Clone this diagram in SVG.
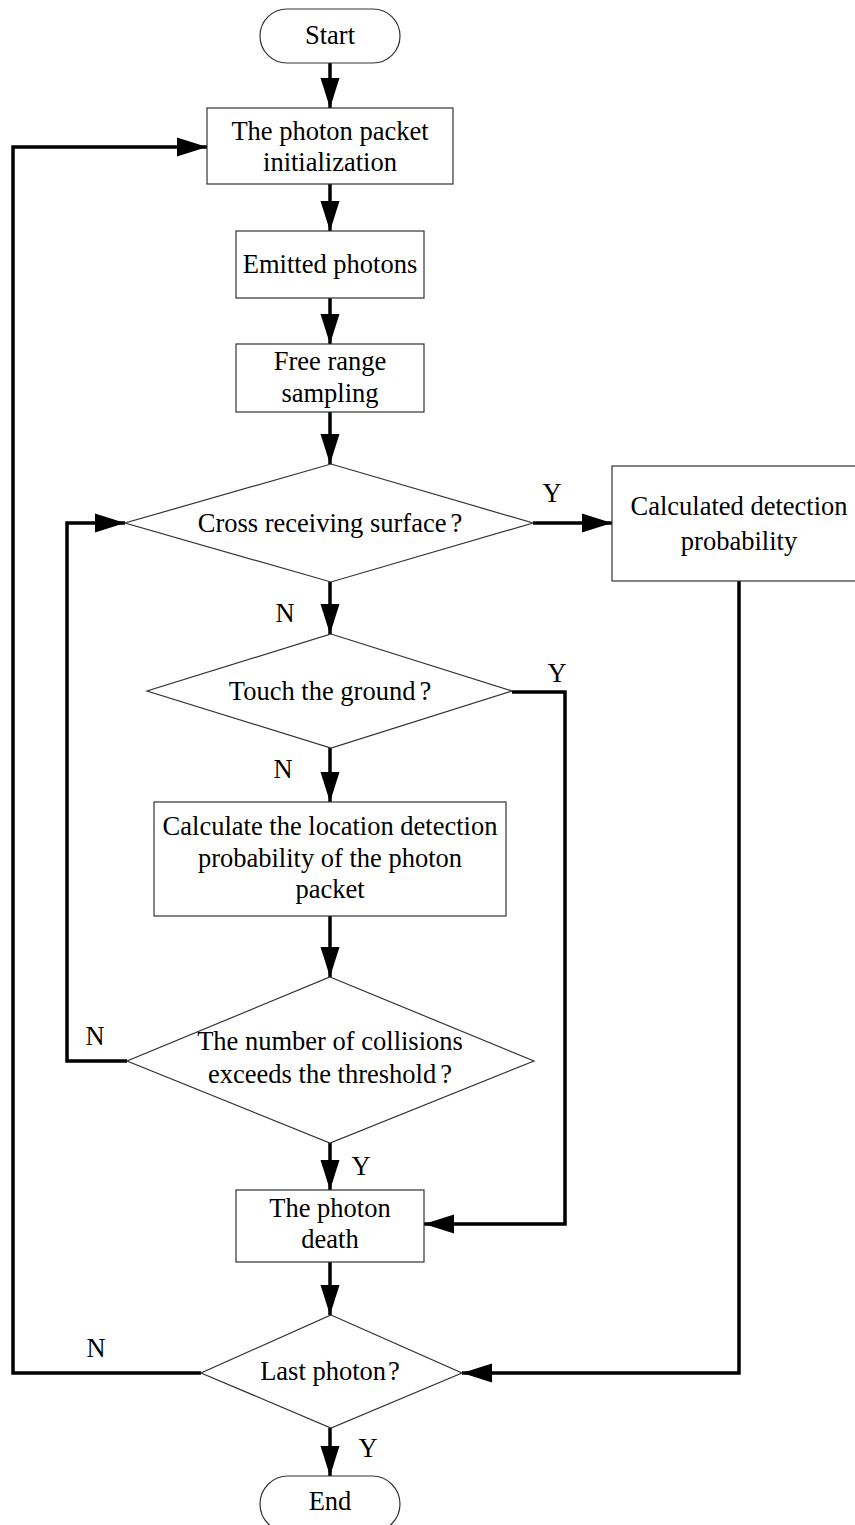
<svg xmlns="http://www.w3.org/2000/svg" width="855" height="1525" viewBox="0 0 855 1525">
<style>
.box{fill:#fff;stroke:#333;stroke-width:1.2}
.t{font-family:"Liberation Serif","Times New Roman",serif;font-size:26.5px;fill:#000;text-anchor:middle}
.lbl{font-family:"Liberation Serif","Times New Roman",serif;font-size:26.5px;fill:#000;text-anchor:middle}
.c{fill:none;stroke:#000;stroke-width:3.5;stroke-linejoin:miter}
</style>
<defs>
<marker id="ah" markerUnits="userSpaceOnUse" markerWidth="30" markerHeight="20" refX="30" refY="10" orient="auto">
<path d="M0,0.5 L30,10 L0,19.5 z" fill="#000"/>
</marker>
</defs>
<rect width="855" height="1525" fill="#fff"/>
<g id="connectors">
<line class="c" x1="330" y1="63" x2="330" y2="108" marker-end="url(#ah)"/>
<line class="c" x1="330" y1="184" x2="330" y2="231" marker-end="url(#ah)"/>
<line class="c" x1="330" y1="298" x2="330" y2="344" marker-end="url(#ah)"/>
<line class="c" x1="330" y1="412" x2="330" y2="464" marker-end="url(#ah)"/>
<line class="c" x1="533" y1="523" x2="612" y2="523" marker-end="url(#ah)"/>
<line class="c" x1="330" y1="582" x2="330" y2="634" marker-end="url(#ah)"/>
<line class="c" x1="330" y1="748" x2="330" y2="802" marker-end="url(#ah)"/>
<line class="c" x1="330" y1="916" x2="330" y2="977" marker-end="url(#ah)"/>
<line class="c" x1="330" y1="1143" x2="330" y2="1190" marker-end="url(#ah)"/>
<line class="c" x1="330" y1="1262" x2="330" y2="1315" marker-end="url(#ah)"/>
<line class="c" x1="330" y1="1428" x2="330" y2="1476" marker-end="url(#ah)"/>
<polyline class="c" points="512,692 565,692 565,1224 424,1224" marker-end="url(#ah)"/>
<polyline class="c" points="127,1061 67,1061 67,523 125,523" marker-end="url(#ah)"/>
<polyline class="c" points="739,581 739,1373 462,1373" marker-end="url(#ah)"/>
<polyline class="c" points="201,1373 13,1373 13,147 207,147" marker-end="url(#ah)"/>
</g>
<g id="start">
<rect class="box" x="260" y="9" width="140" height="54" rx="27" ry="27"/>
<text class="t" x="330" y="44">Start</text>
</g>
<g id="init">
<rect class="box" x="207" y="108" width="246" height="76"/>
<text class="t" x="330" y="140">The photon packet</text>
<text class="t" x="330" y="171">initialization</text>
</g>
<g id="emitted">
<rect class="box" x="236" y="231" width="188" height="67"/>
<text class="t" x="330" y="273">Emitted photons</text>
</g>
<g id="free">
<rect class="box" x="236" y="344" width="188" height="68"/>
<text class="t" x="330" y="370">Free range</text>
<text class="t" x="330" y="402">sampling</text>
</g>
<g id="cross">
<polygon class="box" points="331,464 533,523 331,582 125,523"/>
<text class="t" x="330" y="532">Cross receiving surface<tspan dx="4">?</tspan></text>
</g>
<g id="calcdet">
<rect class="box" x="612" y="466" width="256" height="115"/>
<text class="t" x="739" y="515">Calculated detection</text>
<text class="t" x="739" y="550">probability</text>
</g>
<g id="touch">
<polygon class="box" points="331,634 512,691 331,748 147,691"/>
<text class="t" x="330" y="700">Touch the ground<tspan dx="4">?</tspan></text>
</g>
<g id="calcloc">
<rect class="box" x="154" y="802" width="352" height="114"/>
<text class="t" x="330" y="835">Calculate the location detection</text>
<text class="t" x="330" y="867">probability of the photon</text>
<text class="t" x="330" y="898">packet</text>
</g>
<g id="collisions">
<polygon class="box" points="330,977 534,1061 330,1143 127,1061"/>
<text class="t" x="330" y="1050">The number of collisions</text>
<text class="t" x="330" y="1083">exceeds the threshold<tspan dx="4">?</tspan></text>
</g>
<g id="death">
<rect class="box" x="236" y="1190" width="188" height="72"/>
<text class="t" x="330" y="1217">The photon</text>
<text class="t" x="330" y="1248">death</text>
</g>
<g id="last">
<polygon class="box" points="331,1315 462,1373 331,1428 201,1373"/>
<text class="t" x="330" y="1380">Last photon<tspan dx="2">?</tspan></text>
</g>
<g id="end">
<rect class="box" x="260" y="1476" width="140" height="56" rx="28" ry="28"/>
<text class="t" x="330" y="1510">End</text>
</g>
<g id="labels">
<text class="lbl" x="552" y="502">Y</text>
<text class="lbl" x="285" y="622">N</text>
<text class="lbl" x="557" y="682">Y</text>
<text class="lbl" x="283" y="778">N</text>
<text class="lbl" x="95" y="1045">N</text>
<text class="lbl" x="361" y="1175">Y</text>
<text class="lbl" x="96" y="1357">N</text>
<text class="lbl" x="368" y="1457">Y</text>
</g>
</svg>
